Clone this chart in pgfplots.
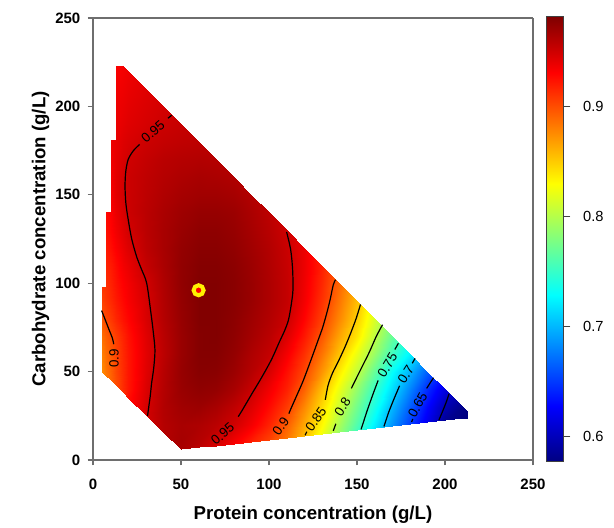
\documentclass[border=0pt]{standalone}
\usepackage{fontspec}
\setmainfont{Liberation Sans}
\usepackage{pgfplots}
\pgfplotsset{compat=1.18}
\definecolor{axgray}{RGB}{110,110,110}
\begin{document}
\begin{tikzpicture}
\begin{axis}[
  name=main,
  view={0}{90},
  scale only axis, width=330pt, height=331.5pt,
  xmin=0, xmax=250, ymin=0, ymax=250,
  xtick={0,50,...,250}, ytick={0,50,...,250},
  tick align=outside, xtick pos=bottom, ytick pos=left,
  major tick length=3.75pt,
  axis line style={draw=axgray, line width=0.9pt},
  every tick/.style={draw=axgray, line width=0.9pt},
  tick label style={font=\fontsize{11.25}{13}\selectfont\bfseries},
  /pgf/number format/assume math mode=true,
  xticklabel style={yshift=-7pt},
  yticklabel style={xshift=-2.25pt},
  xlabel={Protein concentration (g/L)},
  ylabel={Carbohydrate concentration (g/L)},
  every axis x label/.style={at={(axis description cs:0.5,-0.104)}, anchor=north, inner sep=0pt, font=\fontsize{14}{16}\selectfont\bfseries},
  every axis y label/.style={at={(axis description cs:-0.1398,0.5)}, rotate=90, anchor=north, inner sep=0pt, font=\fontsize{14}{16}\selectfont\bfseries},
  colormap/jet,
  point meta min=0.577, point meta max=0.981,
  colorbar,
  colorbar style={
    at={(parent axis.north east)}, anchor=north west, xshift=1.5pt, yshift=0.75pt,
    scale only axis, width=12.75pt, height=333.75pt,
    ytick={0.6,0.7,0.8,0.9},
    ytick pos=right, tick align=outside, major tick length=5.25pt,
    tick label style={font=\fontsize{11}{13}\selectfont},
    yticklabel style={/pgf/number format/fixed, /pgf/number format/precision=1, xshift=6pt},
    /pgf/number format/assume math mode=true,
    axis line style={draw=black!75, line width=0.75pt},
    every tick/.style={draw=black!75, line width=0.9pt},
  },
]
\addplot3[surf, shader=interp, point meta=z, mesh/ordering=y varies] table {
5 50 0.875
5 50 0.875
5 50 0.875
5 50 0.875
5 50 0.875
5 50 0.875
5 60 0.880
5 70 0.887
5 80 0.897
5 90 0.905
5 98 0.910
5 98 0.910
5 98 0.910
5 98 0.910
5 98 0.910
5 98 0.910
5 98 0.910
5 98 0.910
5 98 0.910
5 98 0.910
5 98 0.910
5 98 0.910
5 98 0.910
5 98 0.910

7.5 47.6 0.883
7.5 47.6 0.883
7.5 47.6 0.883
7.5 47.6 0.883
7.5 47.6 0.883
7.5 50 0.885
7.5 60 0.888
7.5 70 0.894
7.5 80 0.903
7.5 90 0.910
7.5 98 0.912
7.5 98 0.912
7.5 98 0.912
7.5 98 0.912
7.5 98 0.912
7.5 98 0.912
7.5 98 0.912
7.5 98 0.912
7.5 98 0.912
7.5 98 0.912
7.5 98 0.912
7.5 98 0.912
7.5 98 0.912
7.5 98 0.912

7.5 47.6 0.883
7.5 47.6 0.883
7.5 47.6 0.883
7.5 47.6 0.883
7.5 47.6 0.883
7.5 50 0.885
7.5 60 0.888
7.5 70 0.894
7.5 80 0.903
7.5 90 0.910
7.5 100 0.913
7.5 110 0.917
7.5 120 0.921
7.5 130 0.925
7.5 140 0.928
7.5 140 0.928
7.5 140 0.928
7.5 140 0.928
7.5 140 0.928
7.5 140 0.928
7.5 140 0.928
7.5 140 0.928
7.5 140 0.928
7.5 140 0.928

10 45.1 0.892
10 45.1 0.892
10 45.1 0.892
10 45.1 0.892
10 45.1 0.892
10 50 0.893
10 60 0.895
10 70 0.900
10 80 0.909
10 90 0.915
10 100 0.918
10 110 0.921
10 120 0.926
10 130 0.930
10 140 0.932
10 140 0.932
10 140 0.932
10 140 0.932
10 140 0.932
10 140 0.932
10 140 0.932
10 140 0.932
10 140 0.932
10 140 0.932

10 45.1 0.892
10 45.1 0.892
10 45.1 0.892
10 45.1 0.892
10 45.1 0.892
10 50 0.893
10 60 0.895
10 70 0.900
10 80 0.909
10 90 0.915
10 100 0.918
10 110 0.921
10 120 0.926
10 130 0.930
10 140 0.932
10 150 0.934
10 160 0.935
10 170 0.936
10 180 0.937
10 181 0.937
10 181 0.937
10 181 0.937
10 181 0.937
10 181 0.937

13 42.2 0.901
13 42.2 0.901
13 42.2 0.901
13 42.2 0.901
13 42.2 0.901
13 50 0.903
13 60 0.904
13 70 0.907
13 80 0.916
13 90 0.921
13 100 0.924
13 110 0.927
13 120 0.932
13 130 0.936
13 140 0.939
13 150 0.942
13 160 0.942
13 170 0.941
13 180 0.940
13 181 0.940
13 181 0.940
13 181 0.940
13 181 0.940
13 181 0.940

13 42.2 0.901
13 42.2 0.901
13 42.2 0.901
13 42.2 0.901
13 42.2 0.901
13 50 0.903
13 60 0.904
13 70 0.907
13 80 0.916
13 90 0.921
13 100 0.924
13 110 0.927
13 120 0.932
13 130 0.936
13 140 0.939
13 150 0.942
13 160 0.942
13 170 0.941
13 180 0.940
13 190 0.938
13 200 0.937
13 210 0.935
13 220 0.933
13 223 0.932

17 38.3 0.912
17 38.3 0.912
17 38.3 0.912
17 38.3 0.912
17 40 0.914
17 50 0.914
17 60 0.915
17 70 0.917
17 80 0.924
17 90 0.928
17 100 0.931
17 110 0.935
17 120 0.939
17 130 0.943
17 140 0.946
17 150 0.948
17 160 0.948
17 170 0.946
17 180 0.944
17 190 0.941
17 200 0.939
17 210 0.937
17 220 0.935
17 223 0.935

20 35.3 0.925
20 35.3 0.925
20 35.3 0.925
20 35.3 0.925
20 40 0.922
20 50 0.922
20 60 0.922
20 70 0.924
20 80 0.929
20 90 0.933
20 100 0.935
20 110 0.939
20 120 0.944
20 130 0.948
20 140 0.951
20 150 0.951
20 160 0.951
20 170 0.949
20 180 0.946
20 190 0.943
20 200 0.941
20 210 0.939
20 220 0.937
20 220 0.937

30 25.6 0.948
30 25.6 0.948
30 25.6 0.948
30 30 0.947
30 40 0.945
30 50 0.943
30 60 0.942
30 70 0.943
30 80 0.946
30 90 0.947
30 100 0.949
30 110 0.954
30 120 0.957
30 130 0.958
30 140 0.958
30 150 0.957
30 160 0.956
30 170 0.954
30 180 0.951
30 190 0.947
30 200 0.945
30 210 0.943
30 210 0.943
30 210 0.943

40 15.8 0.960
40 15.8 0.960
40 20 0.960
40 30 0.961
40 40 0.960
40 50 0.959
40 60 0.957
40 70 0.958
40 80 0.960
40 90 0.961
40 100 0.962
40 110 0.964
40 120 0.965
40 130 0.965
40 140 0.964
40 150 0.962
40 160 0.960
40 170 0.958
40 180 0.954
40 190 0.951
40 200 0.948
40 200 0.948
40 200 0.948
40 200 0.948

50 6 0.965
50 10 0.966
50 20 0.965
50 30 0.968
50 40 0.971
50 50 0.972
50 60 0.971
50 70 0.971
50 80 0.972
50 90 0.973
50 100 0.974
50 110 0.974
50 120 0.973
50 130 0.971
50 140 0.969
50 150 0.966
50 160 0.963
50 170 0.960
50 180 0.956
50 190 0.953
50 190 0.953
50 190 0.953
50 190 0.953
50 190 0.953

60 7.1 0.957
60 10 0.960
60 20 0.963
60 30 0.970
60 40 0.975
60 50 0.978
60 60 0.979
60 70 0.979
60 80 0.980
60 90 0.980
60 100 0.980
60 110 0.979
60 120 0.977
60 130 0.975
60 140 0.972
60 150 0.968
60 160 0.965
60 170 0.961
60 180 0.957
60 180 0.957
60 180 0.957
60 180 0.957
60 180 0.957
60 180 0.957

70 8.2 0.946
70 10 0.949
70 20 0.958
70 30 0.965
70 40 0.973
70 50 0.977
70 60 0.979
70 70 0.980
70 80 0.980
70 90 0.980
70 100 0.980
70 110 0.979
70 120 0.977
70 130 0.975
70 140 0.972
70 150 0.968
70 160 0.964
70 170 0.960
70 170 0.960
70 170 0.960
70 170 0.960
70 170 0.960
70 170 0.960
70 170 0.960

80 9.3 0.933
80 10 0.934
80 20 0.949
80 30 0.956
80 40 0.965
80 50 0.970
80 60 0.973
80 70 0.975
80 80 0.976
80 90 0.977
80 100 0.977
80 110 0.976
80 120 0.974
80 130 0.972
80 140 0.970
80 150 0.966
80 160 0.962
80 160 0.962
80 160 0.962
80 160 0.962
80 160 0.962
80 160 0.962
80 160 0.962
80 160 0.962

90 10.4 0.919
90 10.4 0.919
90 20 0.935
90 30 0.944
90 40 0.953
90 50 0.960
90 60 0.963
90 70 0.967
90 80 0.969
90 90 0.971
90 100 0.971
90 110 0.970
90 120 0.968
90 130 0.966
90 140 0.964
90 150 0.961
90 150 0.961
90 150 0.961
90 150 0.961
90 150 0.961
90 150 0.961
90 150 0.961
90 150 0.961
90 150 0.961

100 11.5 0.905
100 11.5 0.905
100 20 0.917
100 30 0.927
100 40 0.936
100 50 0.946
100 60 0.954
100 70 0.958
100 80 0.961
100 90 0.963
100 100 0.963
100 110 0.962
100 120 0.961
100 130 0.959
100 140 0.957
100 140 0.957
100 140 0.957
100 140 0.957
100 140 0.957
100 140 0.957
100 140 0.957
100 140 0.957
100 140 0.957
100 140 0.957

110 12.6 0.884
110 12.6 0.884
110 20 0.893
110 30 0.907
110 40 0.918
110 50 0.925
110 60 0.934
110 70 0.944
110 80 0.951
110 90 0.954
110 100 0.954
110 110 0.953
110 120 0.952
110 130 0.950
110 130 0.950
110 130 0.950
110 130 0.950
110 130 0.950
110 130 0.950
110 130 0.950
110 130 0.950
110 130 0.950
110 130 0.950
110 130 0.950

120 13.7 0.857
120 13.7 0.857
120 20 0.864
120 30 0.877
120 40 0.892
120 50 0.903
120 60 0.912
120 70 0.922
120 80 0.930
120 90 0.935
120 100 0.937
120 110 0.938
120 120 0.938
120 120 0.938
120 120 0.938
120 120 0.938
120 120 0.938
120 120 0.938
120 120 0.938
120 120 0.938
120 120 0.938
120 120 0.938
120 120 0.938
120 120 0.938

130 14.8 0.824
130 14.8 0.824
130 20 0.831
130 30 0.843
130 40 0.855
130 50 0.871
130 60 0.884
130 70 0.896
130 80 0.905
130 90 0.911
130 100 0.915
130 110 0.918
130 110 0.918
130 110 0.918
130 110 0.918
130 110 0.918
130 110 0.918
130 110 0.918
130 110 0.918
130 110 0.918
130 110 0.918
130 110 0.918
130 110 0.918
130 110 0.918

140 15.9 0.789
140 15.9 0.789
140 20 0.795
140 30 0.809
140 40 0.822
140 50 0.837
140 60 0.853
140 70 0.866
140 80 0.877
140 90 0.884
140 100 0.890
140 100 0.890
140 100 0.890
140 100 0.890
140 100 0.890
140 100 0.890
140 100 0.890
140 100 0.890
140 100 0.890
140 100 0.890
140 100 0.890
140 100 0.890
140 100 0.890
140 100 0.890

150 17 0.755
150 17 0.755
150 20 0.760
150 30 0.773
150 40 0.787
150 50 0.805
150 60 0.821
150 70 0.839
150 80 0.848
150 90 0.855
150 90 0.855
150 90 0.855
150 90 0.855
150 90 0.855
150 90 0.855
150 90 0.855
150 90 0.855
150 90 0.855
150 90 0.855
150 90 0.855
150 90 0.855
150 90 0.855
150 90 0.855
150 90 0.855

160 18.1 0.719
160 18.1 0.719
160 20 0.722
160 30 0.737
160 40 0.750
160 50 0.767
160 60 0.788
160 70 0.803
160 80 0.813
160 80 0.813
160 80 0.813
160 80 0.813
160 80 0.813
160 80 0.813
160 80 0.813
160 80 0.813
160 80 0.813
160 80 0.813
160 80 0.813
160 80 0.813
160 80 0.813
160 80 0.813
160 80 0.813
160 80 0.813

170 19.2 0.685
170 19.2 0.685
170 20 0.686
170 30 0.700
170 40 0.716
170 50 0.730
170 60 0.753
170 70 0.770
170 70 0.770
170 70 0.770
170 70 0.770
170 70 0.770
170 70 0.770
170 70 0.770
170 70 0.770
170 70 0.770
170 70 0.770
170 70 0.770
170 70 0.770
170 70 0.770
170 70 0.770
170 70 0.770
170 70 0.770
170 70 0.770

180 20.3 0.652
180 20.3 0.652
180 20.3 0.652
180 30 0.664
180 40 0.680
180 50 0.698
180 60 0.724
180 60 0.724
180 60 0.724
180 60 0.724
180 60 0.724
180 60 0.724
180 60 0.724
180 60 0.724
180 60 0.724
180 60 0.724
180 60 0.724
180 60 0.724
180 60 0.724
180 60 0.724
180 60 0.724
180 60 0.724
180 60 0.724
180 60 0.724

190 21.4 0.620
190 21.4 0.620
190 21.4 0.620
190 30 0.630
190 40 0.645
190 50 0.665
190 50 0.665
190 50 0.665
190 50 0.665
190 50 0.665
190 50 0.665
190 50 0.665
190 50 0.665
190 50 0.665
190 50 0.665
190 50 0.665
190 50 0.665
190 50 0.665
190 50 0.665
190 50 0.665
190 50 0.665
190 50 0.665
190 50 0.665
190 50 0.665

200 22.5 0.585
200 22.5 0.585
200 22.5 0.585
200 30 0.597
200 40 0.615
200 40 0.615
200 40 0.615
200 40 0.615
200 40 0.615
200 40 0.615
200 40 0.615
200 40 0.615
200 40 0.615
200 40 0.615
200 40 0.615
200 40 0.615
200 40 0.615
200 40 0.615
200 40 0.615
200 40 0.615
200 40 0.615
200 40 0.615
200 40 0.615
200 40 0.615

210 23.6 0.575
210 23.6 0.575
210 23.6 0.575
210 30 0.580
210 30 0.580
210 30 0.580
210 30 0.580
210 30 0.580
210 30 0.580
210 30 0.580
210 30 0.580
210 30 0.580
210 30 0.580
210 30 0.580
210 30 0.580
210 30 0.580
210 30 0.580
210 30 0.580
210 30 0.580
210 30 0.580
210 30 0.580
210 30 0.580
210 30 0.580
210 30 0.580

213 23.9 0.575
213 23.9 0.575
213 23.9 0.575
213 27 0.577
213 27 0.577
213 27 0.577
213 27 0.577
213 27 0.577
213 27 0.577
213 27 0.577
213 27 0.577
213 27 0.577
213 27 0.577
213 27 0.577
213 27 0.577
213 27 0.577
213 27 0.577
213 27 0.577
213 27 0.577
213 27 0.577
213 27 0.577
213 27 0.577
213 27 0.577
213 27 0.577
};
% contour lines
\pgfplotsset{cl/.style={black, line width=0.9pt, no markers, smooth, tension=0.5}}
\addplot3[cl] coordinates {(31,25,1) (31.4,28,1) (32.5,36,1) (33.3,43.4,1) (34.5,52,1) (35.2,62,1) (34.3,72,1) (32.8,84,1) (30.5,100,1) (27.5,108,1) (24.8,115,1) (22,125,1) (20,136,1) (18.7,145,1) (18.2,154.6,1) (18.6,163,1) (20,170,1) (23,175,1) (26.5,178.5,1)};
\addplot3[cl] coordinates {(42.6,193.3,1) (44.7,195,1)};
\addplot3[cl] coordinates {(110,129,1) (112.3,119,1) (113.4,108,1) (113.6,96,1) (112.5,87,1) (111,79,1) (108.8,73,1) (106,67,1) (101.5,57,1) (96,47,1) (90,37,1) (85,28.5,1) (82.5,24.5,1)};
\addplot3[cl] coordinates {(4.9,84.5,1) (5.9,82,1) (7,79.2,1) (9.2,73.5,1) (11,69,1) (11.8,65.5,1)};
\addplot3[cl] coordinates {(137.8,102,1) (136.5,99,1) (134.8,91,1) (132.8,83,1) (130.5,75,1) (128,68,1) (124,57,1) (119.5,45,1) (116,37,1) (112,28,1) (111.3,26.2,1)};
\addplot3[cl] coordinates {(152,88,1) (149.5,80,1) (146.5,72,1) (143.2,64,1) (139.5,56,1) (136,49,1) (133.5,42,1) (132,34,1)};
\addplot3[cl] coordinates {(120.5,14,1) (121.5,16,1)};
\addplot3[cl] coordinates {(164.5,76.5,1) (161,70,1) (157,61,1) (153,53,1) (149.5,46,1) (146.8,40.5,1)};
\addplot3[cl] coordinates {(136.5,16.5,1) (138,20.5,1)};
\addplot3[cl] coordinates {(171.5,62.5,1) (173.5,66,1)};
\addplot3[cl] coordinates {(162,45,1) (159,37,1) (155.8,28,1) (153.2,20,1) (152.3,17.3,1)};
\addplot3[cl] coordinates {(181.4,54.7,1) (183,57.5,1)};
\addplot3[cl] coordinates {(174.2,42,1) (171,34.5,1) (168,27,1) (166,21,1) (165.3,19,1)};
\addplot3[cl] coordinates {(193.5,46.5,1) (191.5,43.5,1) (189.6,40.5,1)};
\addplot3[cl] coordinates {(181,21.5,1) (181.7,23.2,1)};
\addplot3[cl] coordinates {(196.5,22.5,1) (198,26,1) (201,33.5,1) (202.3,37.5,1)};
% optimum marker
\addplot3[only marks, mark=*, mark size=3.75pt, mark options={draw=yellow, fill=red, line width=3pt}] coordinates {(60,96,1)};
% contour labels
\begin{scope}[every node/.style={font=\fontsize{10}{12}\selectfont, inner sep=0pt}]
\node[rotate=41] at (axis cs:34.1,185.8,1) {0.95};
\node[rotate=41] at (axis cs:73.6,14.7,1) {0.95};
\node[rotate=90] at (axis cs:11.9,57.3,1) {0.9};
\node[rotate=55] at (axis cs:106.7,18.8,1) {0.9};
\node[rotate=55] at (axis cs:126.6,23.1,1) {0.85};
\node[rotate=57] at (axis cs:141.8,30.1,1) {0.8};
\node[rotate=59] at (axis cs:167.3,53.7,1) {0.75};
\node[rotate=57] at (axis cs:177.7,48.5,1) {0.7};
\node[rotate=61] at (axis cs:184.4,31.1,1) {0.65};
\end{scope}
\end{axis}
\path (main.south west) ++(-69.75pt,-51pt) rectangle ++(460.5pt,396pt);
\end{tikzpicture}
\end{document}
